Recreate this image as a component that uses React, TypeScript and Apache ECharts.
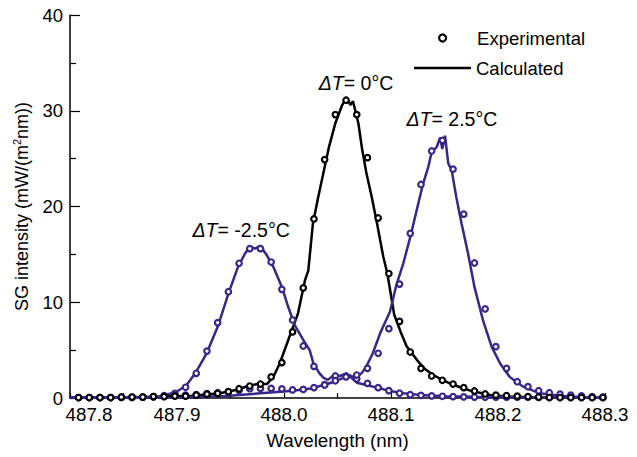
import React, { useEffect, useRef } from "react";
import * as echarts from "echarts";

// Measurement wavelengths (nm), shared by the three experimental sets
const expWavelength = [
  487.808, 487.818, 487.828, 487.838, 487.848, 487.858, 487.868, 487.878, 487.888, 487.898,
  487.908, 487.918, 487.928, 487.938, 487.948, 487.958, 487.968, 487.978, 487.988, 487.998,
  488.008, 488.018, 488.028, 488.038, 488.048, 488.058, 488.068, 488.078, 488.088, 488.098,
  488.108, 488.118, 488.128, 488.138, 488.148, 488.158, 488.168, 488.178, 488.188, 488.198,
  488.208, 488.218, 488.228, 488.238, 488.248, 488.258, 488.268, 488.278, 488.288, 488.298,
];

// Experimental SG intensity, ΔT = 0 °C
const expZero = [
  0.05, 0.05, 0.05, 0.05, 0.1, 0.1, 0.1, 0.15, 0.15, 0.2,
  0.2, 0.3, 0.4, 0.49, 0.66, 0.97, 1.25, 1.46, 2.2, 3.7,
  6.9, 11.5, 18.7, 24.9, 29.6, 31.1, 29.6, 25.1, 18.8, 13.0,
  8.0, 4.8, 3.1, 2.3, 1.85, 1.46, 1.08, 0.73, 0.42, 0.3,
  0.25, 0.2, 0.15, 0.1, 0.05, 0.05, 0.05, 0.05, 0.05, 0.05,
];

// Experimental SG intensity, ΔT = -2.5 °C
const expMinus = [
  0.05, 0.05, 0.05, 0.05, 0.05, 0.05, 0.1, 0.15, 0.24, 0.49,
  1.12, 2.58, 4.9, 7.87, 11.1, 14.07, 15.6, 15.6, 14.2, 11.35,
  8.15, 5.43, 3.3, 1.4, 2.3, 2.3, 2.0, 1.53, 1.08, 0.77,
  0.5, 0.35, 0.28, 0.22, 0.18, 0.15, 0.12, 0.1, 0.1, 0.1,
  0.08, 0.08, 0.08, 0.06, 0.06, 0.05, 0.05, 0.05, 0.05, 0.05,
];

// Experimental SG intensity, ΔT = 2.5 °C
const expPlus = [
  0.05, 0.05, 0.05, 0.05, 0.1, 0.1, 0.1, 0.15, 0.2, 0.25,
  0.3, 0.35, 0.45, 0.55, 0.65, 0.8, 0.97, 1.0, 1.0, 0.95,
  0.84, 0.9, 1.08, 1.36, 1.8, 2.2, 2.4, 3.1, 4.67, 7.24,
  11.9, 17.2, 22.3, 25.8, 26.9, 23.9, 19.2, 14.1, 9.3, 5.36,
  3.1, 1.7, 1.18, 0.76, 0.55, 0.4, 0.3, 0.22, 0.15, 0.1,
];

// Calculated spectrum, ΔT = 0 °C
const calcZeroWl = [
  487.8, 487.85, 487.88, 487.9, 487.915, 487.93, 487.94, 487.955, 487.965, 487.975,
  487.984, 487.99, 487.996, 488.004, 488.008, 488.013, 488.0196, 488.0227, 488.027, 488.032,
  488.0368, 488.042, 488.048, 488.054, 488.0586, 488.062, 488.0645, 488.0695, 488.073, 488.077,
  488.082, 488.087, 488.0928, 488.0966, 488.103, 488.109, 488.1146, 488.12, 488.1255, 488.132,
  488.1395, 488.147, 488.155, 488.164, 488.174, 488.185, 488.1956, 488.21, 488.23, 488.26, 488.3,
];
const calcZero = [
  0.05, 0.08, 0.14, 0.2, 0.24, 0.38, 0.49, 0.84, 1.2, 1.46,
  1.45, 2.2, 3.6, 6.06, 7.3, 8.8, 12.3, 13.3, 18.2, 21.0,
  23.5, 26.2, 28.7, 30.5, 31.4, 30.6, 31.0, 28.7, 26.0, 23.5,
  21.0, 18.2, 14.75, 13.0, 8.7, 6.9, 5.4, 4.6, 3.8, 3.0,
  2.4, 1.95, 1.53, 1.15, 0.77, 0.5, 0.25, 0.15, 0.08, 0.04, 0.02,
];

// Calculated spectrum, ΔT = -2.5 °C
const calcMinusWl = [
  487.8, 487.85, 487.87, 487.884, 487.8997, 487.909, 487.918, 487.9277, 487.9386, 487.948,
  487.957, 487.9636, 487.968, 487.973, 487.9776, 487.984, 487.99, 487.998, 488.004, 488.01,
  488.018, 488.024, 488.0275, 488.033, 488.037, 488.041, 488.047, 488.052, 488.056, 488.062,
  488.068, 488.077, 488.087, 488.099, 488.112, 488.127, 488.15, 488.18, 488.22, 488.26, 488.3,
];
const calcMinus = [
  0.04, 0.08, 0.1, 0.14, 0.66, 1.36, 2.75, 4.67, 7.6, 10.9,
  13.7, 15.1, 15.8, 15.6, 15.9, 14.9, 13.7, 11.6, 9.5, 7.6,
  6.06, 5.0, 3.6, 2.6, 2.1, 1.9, 2.4, 2.3, 2.45, 2.2,
  1.6, 1.36, 1.08, 0.73, 0.5, 0.31, 0.18, 0.12, 0.08, 0.05, 0.03,
];

// Calculated spectrum, ΔT = 2.5 °C
const calcPlusWl = [
  487.8, 487.85, 487.9, 487.946, 487.978, 488.0087, 488.025, 488.037, 488.047, 488.0555,
  488.061, 488.067, 488.0726, 488.077, 488.083, 488.09, 488.099, 488.105, 488.1115, 488.118,
  488.124, 488.13, 488.135, 488.138, 488.1427, 488.1458, 488.148, 488.1505, 488.1535, 488.1567,
  488.161, 488.166, 488.172, 488.178, 488.186, 488.194, 488.202, 488.211, 488.2236, 488.239,
  488.26, 488.28, 488.3,
];
const calcPlus = [
  0.0, 0.0, 0.02, 0.2, 0.49, 0.76, 1.0, 1.36, 1.7, 2.1,
  2.4, 2.1, 2.6, 3.3, 4.67, 6.8, 9.0, 11.8, 14.07, 16.8,
  19.6, 22.4, 24.2, 25.7, 26.2, 27.2, 26.0, 27.4, 24.5, 23.8,
  21.0, 18.2, 15.1, 11.6, 8.1, 5.36, 3.6, 2.2, 1.18, 0.49,
  0.2, 0.08, 0.03,
];

// Temperature offset labels and where they start (wavelength, intensity)
const offsetLabels = ["0°C", "2.5°C", "-2.5°C"];
const offsetLabelAt: [number, number][] = [
  [488.0325, 32.9],
  [488.1145, 29.1],
  [487.9145, 17.5],
];

const FONT = "'Liberation Sans', Arial, Helvetica, sans-serif";
const BLACK = "#000000";
const PURPLE = "#3a2689";

const pairs = (xs: number[], ys: number[]) => xs.map((x, i) => [x, ys[i]]);

export default function App() {
  const ref = useRef<HTMLDivElement>(null);

  useEffect(() => {
    if (!ref.current) return;
    const chart = echarts.init(ref.current, undefined, { renderer: "svg" });

    const lineSeries = (name: string, xs: number[], ys: number[], color: string) => ({
      type: "line",
      name,
      data: pairs(xs, ys),
      showSymbol: false,
      symbol: "none",
      lineStyle: { color, width: 2.5 },
      z: 2,
    });
    const dotSeries = (name: string, ys: number[], color: string) => ({
      type: "scatter",
      name,
      data: pairs(expWavelength, ys),
      symbol: "circle",
      symbolSize: 5.5,
      itemStyle: { color: "#ffffff", borderColor: color, borderWidth: 2.2, opacity: 1 },
      z: 3,
    });

    const textBase = { fontFamily: FONT, fontSize: 18.5, color: BLACK };

    chart.setOption({
      animation: false,
      backgroundColor: "#ffffff",
      grid: { left: 70, right: 32, top: 15, bottom: 59 },
      xAxis: {
        type: "value",
        min: 487.8,
        max: 488.3,
        interval: 0.1,
        name: "Wavelength (nm)",
        nameLocation: "middle",
        nameGap: 33,
        nameTextStyle: { ...textBase, fontSize: 18.8 },
        axisLine: { lineStyle: { color: BLACK, width: 1.5 } },
        axisTick: { inside: true, length: 5, lineStyle: { color: BLACK, width: 1.2 } },
        minorTick: { show: true, splitNumber: 2, length: 5, lineStyle: { color: BLACK, width: 1.2 } },
        splitLine: { show: false },
        axisLabel: {
          ...textBase,
          fontSize: 18.8,
          margin: 7,
          formatter: (v: number, i: number) =>
            i === 0 ? `{first|${v.toFixed(1)}}` : v.toFixed(1),
          rich: { first: { ...textBase, fontSize: 18.8, padding: [0, 0, 0, 38] } },
        },
      },
      yAxis: {
        type: "value",
        min: 0,
        max: 40,
        interval: 10,
        name: "SG intensity (mW/(m{sup|2}nm))",
        nameLocation: "middle",
        nameGap: 36,
        nameTextStyle: {
          ...textBase,
          fontSize: 18,
          lineHeight: 20,
          rich: { sup: { fontFamily: FONT, fontSize: 11, color: BLACK, verticalAlign: "top", lineHeight: 20 } },
        },
        axisLine: { show: true, lineStyle: { color: BLACK, width: 1.5 } },
        axisTick: { inside: true, length: 10, lineStyle: { color: BLACK, width: 1.2 } },
        minorTick: { show: true, splitNumber: 2, length: 6, lineStyle: { color: BLACK, width: 1.2 } },
        splitLine: { show: false },
        axisLabel: { ...textBase, margin: 7 },
      },
      legend: [
        {
          data: [
            { name: "Experimental", icon: "circle", itemStyle: { color: "#ffffff", borderColor: BLACK, borderWidth: 2.2 } },
          ],
          left: 438,
          top: 28,
          padding: 0,
          itemWidth: 7,
          itemHeight: 7,
          selectedMode: false,
          textStyle: { ...textBase, lineHeight: 20, padding: [0, 0, 0, 26] },
        },
        {
          data: [{ name: "Calculated", icon: "rect", itemStyle: { color: BLACK } }],
          left: 414,
          top: 58,
          padding: 0,
          itemWidth: 57,
          itemHeight: 2.5,
          selectedMode: false,
          textStyle: { ...textBase, lineHeight: 20 },
        },
      ],
      series: [
        lineSeries("Calculated", calcZeroWl, calcZero, BLACK),
        lineSeries("Calculated ΔT=-2.5", calcMinusWl, calcMinus, PURPLE),
        lineSeries("Calculated ΔT=2.5", calcPlusWl, calcPlus, PURPLE),
        dotSeries("Experimental ΔT=-2.5", expMinus, PURPLE),
        dotSeries("Experimental ΔT=2.5", expPlus, PURPLE),
        dotSeries("Experimental", expZero, BLACK),
        {
          type: "scatter",
          name: "offsets",
          data: offsetLabelAt.map((p, i) => ({ value: p, label: { formatter: `{it|ΔT}= ${offsetLabels[i]}` } })),
          symbolSize: 0,
          silent: true,
          z: 4,
          itemStyle: { opacity: 1 },
          label: {
            show: true,
            position: "right",
            distance: 0,
            ...textBase,
            fontSize: 19.5,
            color: BLACK,
            opacity: 1,
            rich: { it: { fontFamily: FONT, fontSize: 19.5, color: BLACK, fontStyle: "italic" } },
          },
        },
      ],
    });

    return () => chart.dispose();
  }, []);

  return (
    <div
      ref={ref}
      style={{ position: "fixed", left: 0, top: 0, width: 637, height: 457, background: "#fff" }}
    />
  );
}
